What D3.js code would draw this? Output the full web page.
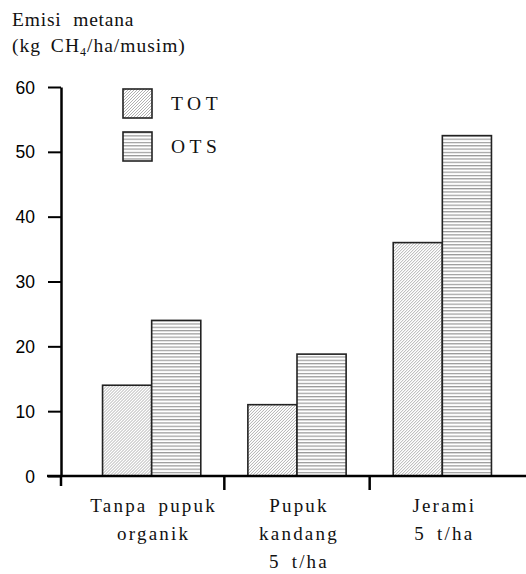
<!DOCTYPE html>
<html><head><meta charset="utf-8">
<script src="https://cdn.jsdelivr.net/npm/d3@7"></script>
<style>body{margin:0;background:#fff}</style>
</head><body>
<svg id="c" width="526" height="574"></svg>
<script>
const categories = [["Tanpa pupuk","organik"],["Pupuk","kandang","5 t/ha"],["Jerami","5 t/ha"]];
const seriesNames = ["TOT","OTS"];
const totValues = [14, 11, 36];
const otsValues = [24, 18.8, 52.5];
const yTicks = [0,10,20,30,40,50,60];

const svg = d3.select("#c");
const defs = svg.append("defs");
const p1 = defs.append("pattern").attr("id","diag").attr("patternUnits","userSpaceOnUse")
  .attr("width",3).attr("height",3);
p1.append("rect").attr("width",3).attr("height",3).attr("fill","#fff");
p1.append("path").attr("d","M-1,1 l2,-2 M0,3 l3,-3 M2,4 l2,-2").attr("stroke","#b0b0b0").attr("stroke-width",1);
const p2 = defs.append("pattern").attr("id","horiz").attr("patternUnits","userSpaceOnUse")
  .attr("width",4).attr("height",3.3);
p2.append("rect").attr("width",4).attr("height",3.3).attr("fill","#fff");
p2.append("rect").attr("y",0).attr("width",4).attr("height",1.2).attr("fill","#999");

const y = d3.scaleLinear().domain([0,60]).range([476,87]);
const idx = categories.map((d,i)=>i);
const x0 = d3.scaleBand().domain(idx).range([79,515]).paddingInner(0.324).paddingOuter(0.162);
const x1 = d3.scaleBand().domain(seriesNames).range([0, x0.bandwidth()]);

const fills = {TOT:"url(#diag)", OTS:"url(#horiz)"};
const data = idx.map(i => ({i, vals:[{k:"TOT",v:totValues[i]},{k:"OTS",v:otsValues[i]}]}));

const g = svg.append("g");
g.selectAll("g.grp").data(data).join("g").attr("transform",d=>`translate(${x0(d.i)},0)`)
  .selectAll("rect").data(d=>d.vals).join("rect")
  .attr("x",d=>x1(d.k)).attr("width",x1.bandwidth())
  .attr("y",d=>y(d.v)).attr("height",d=>y(0)-y(d.v))
  .attr("fill",d=>fills[d.k]).attr("stroke","#222").attr("stroke-width",1.6);

// Y axis
const yAxis = d3.axisLeft(y).tickValues(yTicks).tickSize(13).tickPadding(13).tickSizeOuter(0);
const ya = svg.append("g").attr("transform","translate(61,0)").call(yAxis);
ya.select(".domain").attr("stroke","#000").attr("stroke-width",2.5);
ya.selectAll(".tick line").attr("stroke","#000").attr("stroke-width",2);
ya.selectAll(".tick text").attr("font-family","'Liberation Sans', Arial, sans-serif").attr("font-size",17.5).attr("fill","#000").attr("dy","0.35em");

// X axis line
svg.append("line").attr("x1",47).attr("x2",526).attr("y1",y(0)).attr("y2",y(0)).attr("stroke","#000").attr("stroke-width",2.5);
// separator ticks: axis origin and midpoints between groups
const seps = [61].concat(idx.slice(1).map(i => (x0(i-1)+x0.bandwidth()+x0(i))/2));
svg.selectAll("line.sep").data(seps).join("line").attr("class","sep")
  .attr("x1",d=>d).attr("x2",d=>d).attr("y1",y(0)).attr("y2",(d,i)=>i===0?486:490)
  .attr("stroke","#000").attr("stroke-width",2.5);

// X labels
const serif = "'Liberation Serif', 'Times New Roman', serif";
idx.forEach(i => {
  const cx = x0(i) + x0.bandwidth()/2 + 2;
  const t = svg.append("text").attr("text-anchor","middle").attr("font-family",serif)
    .attr("font-size",19).attr("letter-spacing","2.2px").attr("word-spacing","4px").attr("fill","#111");
  categories[i].forEach((line,j) => {
    t.append("tspan").attr("x",cx).attr("y",512 + j*28).text(line);
  });
});

// Title
const tt = svg.append("text").attr("font-family",serif).attr("font-size",19.5).attr("fill","#111")
  .attr("letter-spacing","0.8px").attr("word-spacing","6px");
tt.append("tspan").attr("x",12).attr("y",26).text("Emisi metana");
const t2 = svg.append("text").attr("font-family",serif).attr("font-size",19.5).attr("fill","#111")
  .attr("letter-spacing","1px").attr("word-spacing","4px").attr("x",12).attr("y",52);
t2.append("tspan").text("(kg CH");
t2.append("tspan").attr("font-size",12).attr("dy",4).text("4");
t2.append("tspan").attr("dy",-4).text("/ha/musim)");

// Legend
const leg = svg.selectAll("g.leg").data(seriesNames).join("g").attr("class","leg")
  .attr("transform",(d,i)=>`translate(123,${89 + i*43})`);
leg.append("rect").attr("width",29).attr("height",29).attr("fill",d=>fills[d]).attr("stroke","#222").attr("stroke-width",1.6);
leg.append("text").attr("x",48).attr("y",21).attr("font-family",serif).attr("font-size",19.5)
  .attr("letter-spacing","4.5px").attr("fill","#111").text(d=>d);
</script>
</body></html>
